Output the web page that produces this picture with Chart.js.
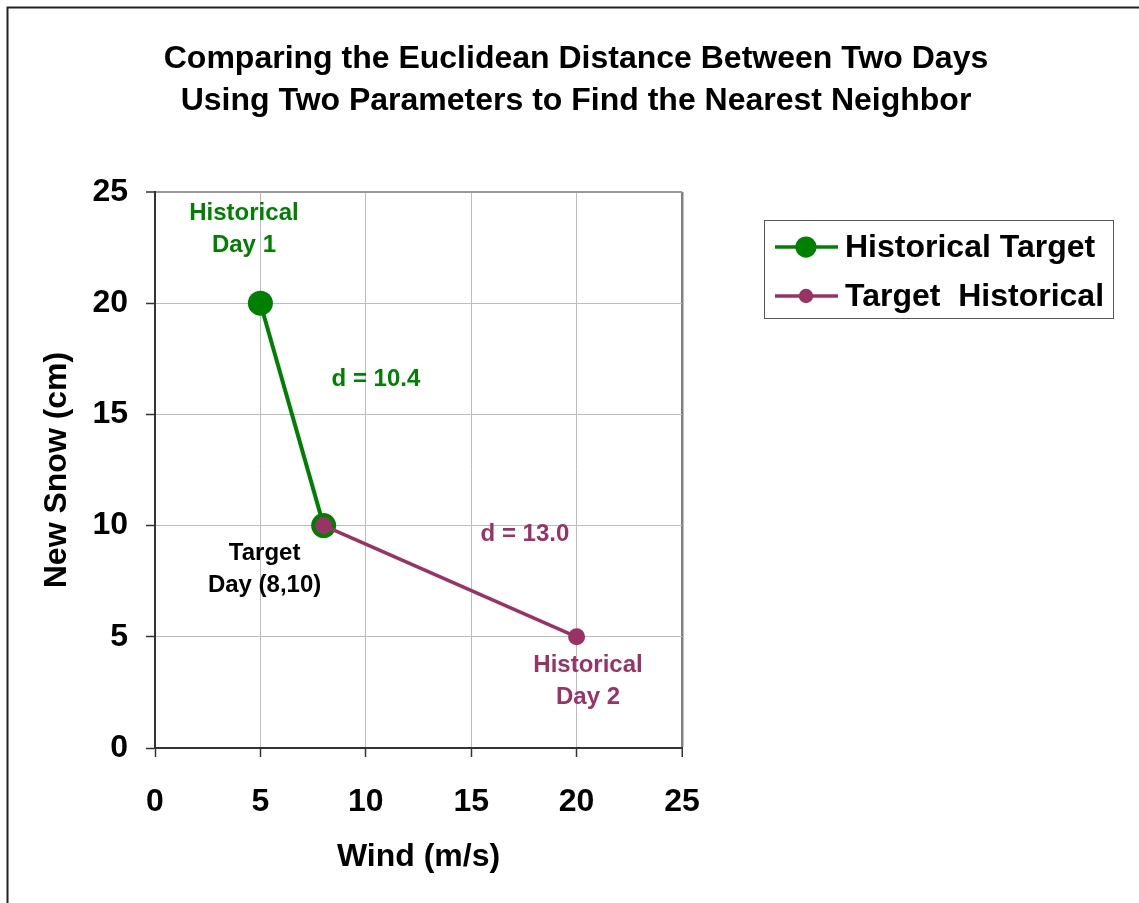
<!DOCTYPE html>
<html>
<head>
<meta charset="utf-8">
<title>Nearest neighbor distance</title>
<script src="https://cdn.jsdelivr.net/npm/chart.js@4.4.1/dist/chart.umd.min.js"></script>
<style>
  html, body { margin: 0; padding: 0; background: #fff; }
  #wrap { width: 1139px; height: 903px; position: relative; }
</style>
</head>
<body>
<div id="wrap"><canvas id="chart"></canvas></div>
<script>
// --- DATA ---
const titleLines = [
  'Comparing the Euclidean Distance Between Two Days',
  'Using Two Parameters to Find the Nearest Neighbor'
];
const xTitle = 'Wind (m/s)';
const yTitle = 'New Snow (cm)';
const axisTicks = [0, 5, 10, 15, 20, 25];

const seriesNames = ['Historical Target', 'Target  Historical'];
// historical day 1 -> target day
const day1Wind = [5, 8];
const day1Snow = [20, 10];
// target day -> historical day 2
const day2Wind = [8, 20];
const day2Snow = [10, 5];

// --- STYLE ---
const FONT = "'Liberation Sans', Arial, sans-serif";
const GREEN = '#008000';
const PLUM = '#993366';

const toPoints = (xs, ys) => xs.map((x, i) => ({ x: x, y: ys[i] }));
const dist = (xs, ys) => Math.hypot(xs[1] - xs[0], ys[1] - ys[0]).toFixed(1);

// text notes, anchored in axis units (centre of first line)
const notes = [
  { lines: ['Historical', 'Day 1'], x: 4.22, y: 24.12, color: GREEN },
  { lines: ['d = ' + dist(day1Wind, day1Snow)], x: 10.48, y: 16.68, color: GREEN },
  { lines: ['Target', 'Day (' + day1Wind[1] + ',' + day1Snow[1] + ')'], x: 5.2, y: 8.84, color: '#000' },
  { lines: ['d = ' + dist(day2Wind, day2Snow)], x: 17.55, y: 9.71, color: PLUM },
  { lines: ['Historical', 'Day 2'], x: 20.54, y: 3.8, color: PLUM }
];

// --- PLUGINS ---
const frame = {
  id: 'frame',
  beforeDraw(chart) {
    const c = chart.ctx;
    c.save();
    c.strokeStyle = '#222';
    c.lineWidth = 2;
    c.beginPath();
    c.moveTo(7.5, chart.height);
    c.lineTo(7.5, 7.5);
    c.lineTo(chart.width, 7.5);
    c.stroke();
    c.restore();
  }
};

const noteText = {
  id: 'noteText',
  afterDatasetsDraw(chart) {
    const c = chart.ctx;
    const { x, y } = chart.scales;
    c.save();
    c.font = 'bold 24px ' + FONT;
    c.textAlign = 'center';
    c.textBaseline = 'middle';
    notes.forEach(n => {
      c.fillStyle = n.color;
      n.lines.forEach((t, i) => {
        c.fillText(t, x.getPixelForValue(n.x), y.getPixelForValue(n.y) + 2 + i * 32);
      });
    });
    c.restore();
  }
};

const boxLegend = {
  id: 'boxLegend',
  afterDraw(chart) {
    const c = chart.ctx;
    const left = 764, top = 220, w = 349, h = 98;
    c.save();
    c.strokeStyle = '#555';
    c.lineWidth = 1;
    c.strokeRect(left + 0.5, top + 0.5, w, h);
    c.font = 'bold 32px ' + FONT;
    c.textBaseline = 'middle';
    c.textAlign = 'left';
    chart.data.datasets.forEach((ds, i) => {
      const cy = 247 + i * 49;
      c.strokeStyle = ds.borderColor;
      c.lineWidth = 3.5;
      c.beginPath();
      c.moveTo(775, cy);
      c.lineTo(838, cy);
      c.stroke();
      c.fillStyle = ds.pointBackgroundColor;
      c.beginPath();
      c.arc(806, cy, ds.pointRadius * 0.85, 0, Math.PI * 2);
      c.fill();
      c.fillStyle = '#000';
      c.fillText(ds.label, 845, cy + 1);
    });
    c.restore();
  }
};

// --- CHART ---
const tickFont = { family: FONT, size: 32, weight: 'bold' };
const edgeColor = (lastColor) => (ctx) => ctx.tick && ctx.tick.value === 25 ? lastColor : '#bcbcbc';
const edgeWidth = (lastWidth) => (ctx) => ctx.tick && ctx.tick.value === 25 ? lastWidth : 1;

new Chart(document.getElementById('chart'), {
  type: 'scatter',
  data: {
    datasets: [{
      label: seriesNames[0],
      data: toPoints(day1Wind, day1Snow),
      showLine: true,
      borderColor: GREEN,
      backgroundColor: GREEN,
      borderWidth: 4,
      pointRadius: 12.5,
      pointBackgroundColor: GREEN,
      pointBorderColor: GREEN,
      pointBorderWidth: 0,
      order: 1
    }, {
      label: seriesNames[1],
      data: toPoints(day2Wind, day2Snow),
      showLine: true,
      borderColor: PLUM,
      backgroundColor: PLUM,
      borderWidth: 3.5,
      pointRadius: 8.5,
      pointBackgroundColor: PLUM,
      pointBorderColor: PLUM,
      pointBorderWidth: 0,
      order: 0
    }]
  },
  options: {
    responsive: true,
    maintainAspectRatio: false,
    animation: false,
    events: [],
    layout: { padding: { left: 13, right: 0, top: 0, bottom: 0 } },
    plugins: {
      legend: { display: false },
      tooltip: { enabled: false },
      title: {
        display: true,
        text: titleLines,
        color: '#000',
        font: { family: FONT, size: 32, weight: 'bold', lineHeight: 1.297 },
        padding: { top: 38.5, bottom: 70.5 }
      }
    },
    scales: {
      x: {
        type: 'linear',
        min: 0,
        max: 25,
        afterBuildTicks: s => { s.ticks = axisTicks.map(v => ({ value: v })); },
        afterFit: s => { s.height = 155; },
        ticks: { color: '#000', font: tickFont, padding: 26, maxRotation: 0 },
        grid: { color: edgeColor('#808080'), lineWidth: edgeWidth(2.5), tickColor: '#333', tickLength: 9, tickWidth: 1.5 },
        border: { color: '#333', width: 2 },
        title: { display: true, text: xTitle, color: '#000', font: tickFont, padding: { top: 0, bottom: 26.8 } }
      },
      y: {
        type: 'linear',
        min: 0,
        max: 25,
        afterBuildTicks: s => { s.ticks = axisTicks.map(v => ({ value: v })); },
        afterFit: s => { s.width = 142; },
        ticks: { color: '#000', font: tickFont, padding: 18 },
        grid: { color: edgeColor('#999'), lineWidth: edgeWidth(2), tickColor: '#333', tickLength: 9, tickWidth: 1.5 },
        border: { color: '#333', width: 2 },
        title: { display: true, text: yTitle, color: '#000', font: tickFont, padding: { top: 24.8, bottom: 0 } }
      },
      // empty right-hand box that holds the legend area
      side: {
        type: 'linear',
        position: 'right',
        display: true,
        afterFit: s => { s.width = 457; },
        ticks: { display: false },
        grid: { display: false },
        border: { display: false }
      }
    }
  },
  plugins: [frame, noteText, boxLegend]
});
</script>
</body>
</html>
